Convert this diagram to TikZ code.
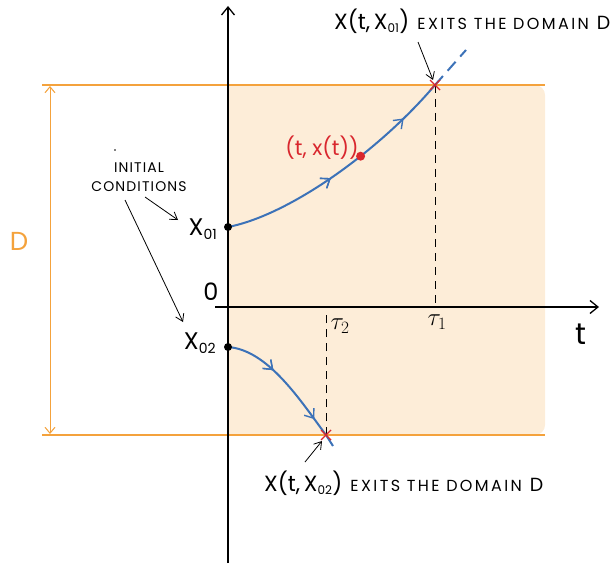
\documentclass[tikz,border=0pt]{standalone}
\usepackage{fontspec}
\setmainfont{Poppins}
\usetikzlibrary{arrows.meta,decorations.markings,calc}
\definecolor{peach}{HTML}{FDEDD8}
\definecolor{orng}{HTML}{F4A23C}
\definecolor{blu}{HTML}{3C72B8}
\definecolor{rd}{HTML}{D9272E}
\newcommand{\spaced}[2]{{\addfontfeatures{LetterSpace=#1}#2}}
\tikzset{
  axis/.style={line width=1.3pt,-{Straight Barb[length=8pt,width=13pt]}},
  bound/.style={draw=orng,line width=1.2pt},
  traj/.style={blu,line width=2pt},
  midarrows/.style={postaction={decorate},decoration={markings,
     mark=at position #1 with {\arrow[blu,line width=1.4pt]{Straight Barb[length=8pt,width=12pt]}}}},
  lbl/.style={inner sep=1pt},
  pointer/.style={line width=0.8pt,-{Straight Barb[length=7pt,width=9pt]}},
  guide/.style={dash pattern=on 8pt off 6pt,line width=0.9pt},
  cross/.style={rd,line width=1.4pt},
}
\begin{document}
\begin{tikzpicture}[x=1pt,y=-1pt]
\useasboundingbox (0,0) rectangle (615,564);
% domain
\fill[peach] (228,85) -- (535,85) to[out=0,in=90] (545,95) -- (545,425) to[out=-90,in=0] (535,435) -- (228,435) -- cycle;
\draw[bound] (42,85) -- (545,85);
\draw[bound] (42,435) -- (545,435);
\coordinate (dtop) at (50,86);
\coordinate (dbot) at (50,434);
\draw[orng,line width=1pt,{Straight Barb[length=6pt,width=10pt]}-{Straight Barb[length=6pt,width=10pt]}] (dtop) -- (dbot);
\node[orng,font=\fontsize{26}{26}\selectfont] (D) at (19,241) {D};
% axes
\coordinate (yb) at (228,563);
\coordinate (yt) at (228,6);
\coordinate (xl) at (215,307);
\coordinate (xr) at (599,307);
\draw[axis] (yb) -- (yt);
\draw[axis] (xl) -- (xr);
\node[font=\fontsize{24}{24}\selectfont] (zero) at (211,292) {0};
\node[font=\fontsize{30}{30}\selectfont] (tlab) at (581,334) {t};
\node[font=\fontsize{26}{26}\selectfont] (tau1) at (437,322) {$\tau_1$};
\node[font=\fontsize{26}{26}\selectfont] (tau2) at (340,326) {$\tau_2$};
% guides
\coordinate (g1t) at (435,85);
\coordinate (g1b) at (435,307);
\coordinate (g2t) at (326,312);
\coordinate (g2b) at (326,435);
\draw[guide] (g1t) -- (g1b);
\draw[guide] (g2b) -- (g2t);
% trajectory 1
\coordinate (x01) at (228,227);
\coordinate (e1) at (435,85);
\draw[traj,midarrows=0.45,postaction={decorate,decoration={markings,mark=at position 0.82 with {\arrow[blu,line width=1.4pt]{Straight Barb[length=8pt,width=12pt]}}}}]
  (x01) .. controls (290,215) and (380,150) .. (e1)
  node[pos=0.62,circle,fill=rd,inner sep=0pt,minimum size=9pt] (pt) {};
\coordinate (e1b) at (466,50);
\draw[traj,dash pattern=on 12pt off 7pt] (e1) -- (e1b);
\node[rd,lbl,font=\fontsize{21}{22}\selectfont] (ptl) at (322,148) {(t, x(t))};
% trajectory 2
\coordinate (x02) at (228,347);
\coordinate (e2) at (326,435);
\coordinate (e2b) at (333,446);
\draw[traj,midarrows=0.35,postaction={decorate,decoration={markings,mark=at position 0.78 with {\arrow[blu,line width=1.4pt]{Straight Barb[length=8pt,width=12pt]}}}}]
  (x02) .. controls (268,350) and (300,400) .. (e2) -- (e2b);
% dots
\fill (x01) circle (4pt);
\fill (x02) circle (4pt);
% crosses
\draw[cross] ($(e1)+(-5,-5)$) -- ($(e1)+(5,5)$) ($(e1)+(-5,5)$) -- ($(e1)+(5,-5)$);
\draw[cross] ($(e2)+(-5,-5)$) -- ($(e2)+(5,5)$) ($(e2)+(-5,5)$) -- ($(e2)+(5,-5)$);
% labels
\node[lbl,font=\fontsize{24}{24}\selectfont] (x01l) at (203,229) {X\textsubscript{\fontsize{14}{14}\selectfont 01}};
\node[lbl,font=\fontsize{24}{24}\selectfont] (x02l) at (200,343) {X\textsubscript{\fontsize{14}{14}\selectfont 02}};
\node[lbl,align=center,font=\fontsize{14}{19}\selectfont] (ic) at (139,177) {\spaced{8}{INITIAL}\\\spaced{8}{CONDITIONS}};
\fill (115,150) circle (0.8pt);
\draw[pointer] (145,197) -- (178,220);
\draw[pointer] (125,200) -- (183,322);
\node[lbl,anchor=west] (top) at (333,21) {{\fontsize{22}{22}\selectfont X(t,\,X\textsubscript{\fontsize{12}{12}\selectfont 01})}\hspace{8pt}{\fontsize{16}{16}\selectfont \spaced{15}{EXITS THE DOMAIN}}\hspace{8pt}{\fontsize{19}{19}\selectfont D}};
\draw[pointer] (418,42) -- (433,80);
\node[lbl,anchor=west] (bot) at (263,483) {{\fontsize{22}{22}\selectfont X(t,\,X\textsubscript{\fontsize{12}{12}\selectfont 02})}\hspace{8pt}{\fontsize{16}{16}\selectfont \spaced{15}{EXITS THE DOMAIN}}\hspace{8pt}{\fontsize{19}{19}\selectfont D}};
\draw[pointer] (305,462) -- (322,441);
\end{tikzpicture}
\end{document}
